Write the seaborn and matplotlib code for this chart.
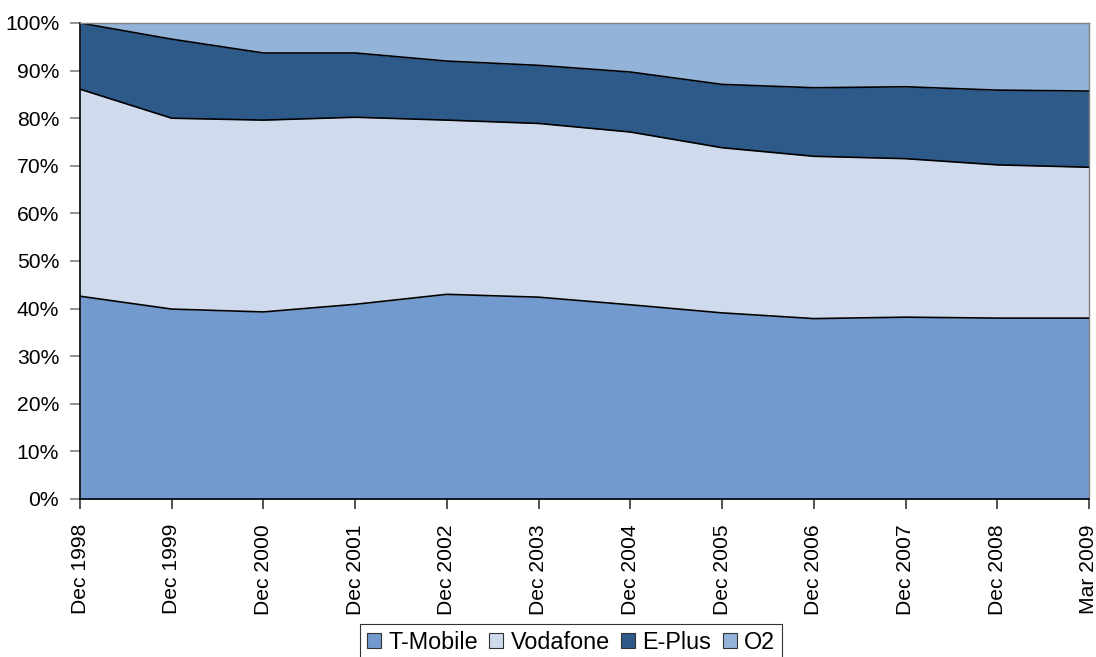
import numpy as np
import pandas as pd
import matplotlib
matplotlib.use("Agg")
import matplotlib.pyplot as plt
from matplotlib.patches import Patch
import seaborn as sns

periods = ["Dec 1998", "Dec 1999", "Dec 2000", "Dec 2001", "Dec 2002", "Dec 2003",
           "Dec 2004", "Dec 2005", "Dec 2006", "Dec 2007", "Dec 2008", "Mar 2009"]
t_mobile = [42.6, 39.9, 39.3, 40.9, 43.0, 42.4, 40.8, 39.1, 37.9, 38.2, 38.0, 38.0]
vodafone = [43.5, 40.1, 40.3, 39.3, 36.6, 36.5, 36.3, 34.7, 34.1, 33.3, 32.2, 31.7]
e_plus = [13.9, 16.6, 14.1, 13.5, 12.4, 12.2, 12.6, 13.3, 14.4, 15.1, 15.7, 16.0]
o2 = [0.0, 3.4, 6.3, 6.3, 8.0, 8.9, 10.3, 12.9, 13.6, 13.4, 14.1, 14.3]

series_names = ["T-Mobile", "Vodafone", "E-Plus", "O2"]
colors = ["#729ACE", "#CFDBEC", "#2E5A8A", "#93B3D9"]

sns.set_theme(style="white")
plt.rcParams["font.family"] = ["Liberation Sans", "DejaVu Sans"]
plt.rcParams["text.color"] = "black"
plt.rcParams["xtick.labelcolor"] = "black"
plt.rcParams["ytick.labelcolor"] = "black"

df = pd.DataFrame({"period": periods, "T-Mobile": t_mobile, "Vodafone": vodafone,
                   "E-Plus": e_plus, "O2": o2})
vals = df[series_names].to_numpy(dtype=float)
shares = vals / vals.sum(axis=1, keepdims=True) * 100
cum = np.cumsum(shares, axis=1)
x = np.arange(len(periods))

fig = plt.figure(figsize=(10.96, 6.57), dpi=100)
ax = fig.add_axes([80 / 1096, 1 - 499 / 657, (1089 - 80) / 1096, (499 - 23) / 657])

lower = np.zeros(len(periods))
for i, name in enumerate(series_names):
    upper = cum[:, i]
    ax.fill_between(x, lower, upper, color=colors[i], linewidth=0, zorder=1)
    lower = upper

lines_df = pd.DataFrame({"x": np.tile(x, 3),
                         "y": np.concatenate([cum[:, 0], cum[:, 1], cum[:, 2]]),
                         "b": np.repeat(["b0", "b1", "b2"], len(x))})
sns.lineplot(data=lines_df, x="x", y="y", units="b", estimator=None, color="black",
             linewidth=1.2, ax=ax, legend=False, zorder=3)

ax.set_xlim(0, len(periods) - 1)
ax.set_ylim(0, 100)
ax.set_xticks(x)
ax.set_xticklabels(periods, rotation=90, fontsize=15.2, color="black")
ax.set_yticks(np.arange(0, 101, 10))
ax.set_yticklabels([f"{v}%" for v in range(0, 101, 10)], fontsize=15.2, color="black")
ax.set_xlabel("")
ax.set_ylabel("")
ax.tick_params(axis="y", which="major", direction="out", length=7, width=1.2,
               color="#808080", left=True, pad=8)
ax.tick_params(axis="x", which="major", direction="out", length=7, width=1.2,
               color="#333333", bottom=True, pad=11)
for s in ["left", "bottom"]:
    ax.spines[s].set_color("black")
    ax.spines[s].set_linewidth(1.2)
for s in ["top", "right"]:
    ax.spines[s].set_color("#808080")
    ax.spines[s].set_linewidth(1.0)
ax.spines["top"].set_zorder(4)

handles = [Patch(facecolor=c, edgecolor="#333333", linewidth=0.8, label=n)
           for c, n in zip(colors, series_names)]
leg = fig.legend(handles=handles, loc="upper center", bbox_to_anchor=(571 / 1096, 1 - 624 / 657),
                 ncol=4, fontsize=16.8, frameon=True, fancybox=False, edgecolor="black",
                 handlelength=0.6, handleheight=0.6, handletextpad=0.3, columnspacing=0.5,
                 borderpad=0.3, borderaxespad=0.0)
leg.get_frame().set_linewidth(0.8)
for t in leg.get_texts():
    t.set_color("black")

fig.savefig("out.png", dpi=100)
